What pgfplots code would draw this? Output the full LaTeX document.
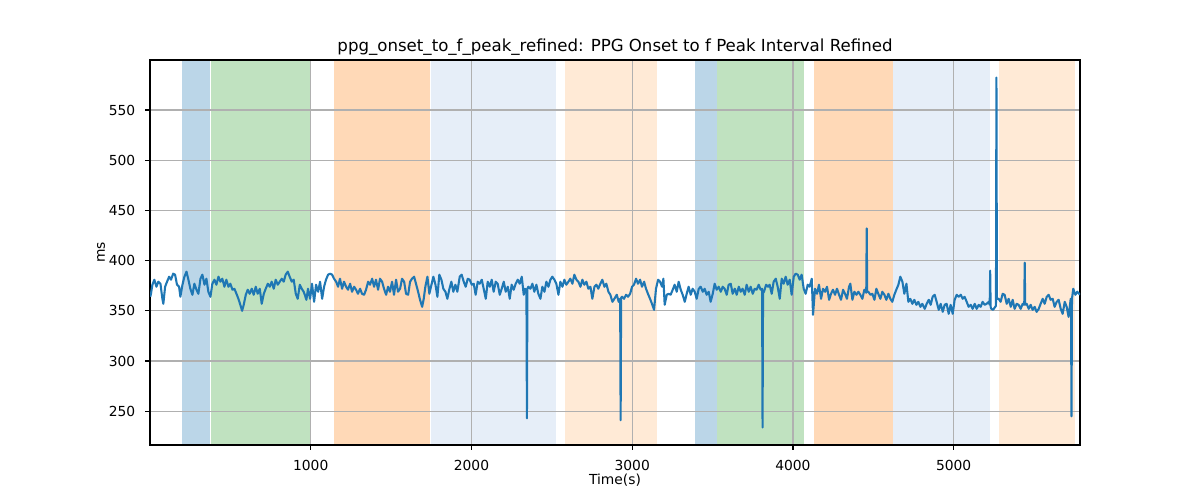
\documentclass[border=0pt]{standalone}
\usepackage{fontspec}
\setmainfont{DejaVu Sans}
\usepackage{pgfplots}
\pgfplotsset{compat=1.18}
\usepackage{pgfplotstable}
\definecolor{tabblue}{HTML}{1F77B4}
\definecolor{gridgray}{HTML}{B0B0B0}
\definecolor{spanblue}{RGB}{187,214,232}
\definecolor{spangreen}{RGB}{192,226,192}
\definecolor{spanorange}{RGB}{255,217,183}
\definecolor{spanltblue}{RGB}{230,238,248}
\definecolor{spanltorange}{RGB}{255,234,214}
\begin{document}
\pgfplotstableread{
x y
1 364
5 366
15 376
27 381
40 374
52 379
65 377
77 362
83 357
94 374
106 379
119 384
131 381
144 387
156 386
168 376
181 374
189 364
202 376
214 384
227 389
239 381
251 372
264 366
276 377
289 371
301 367
314 382
326 386
339 376
351 382
363 369
376 364
388 377
401 381
413 376
426 384
438 379
450 382
463 374
475 381
488 374
500 377
513 371
525 372
538 367
550 362
562 356
573 350
583 356
596 366
608 371
620 367
633 372
645 366
658 374
670 367
683 372
695 357
708 367
720 372
733 377
745 374
757 379
770 372
782 381
795 376
807 379
820 382
832 379
844 386
857 389
869 384
882 379
894 381
907 367
919 362
932 376
944 372
956 369
963 366
973 361
983 372
996 362
1008 377
1021 359
1033 376
1046 369
1058 379
1071 362
1083 374
1095 381
1108 386
1120 387
1133 386
1145 382
1158 379
1170 374
1182 382
1195 372
1207 379
1220 374
1232 371
1245 377
1257 369
1270 374
1282 371
1294 367
1307 372
1319 367
1332 366
1344 371
1357 379
1369 376
1382 382
1394 374
1406 381
1419 371
1431 382
1444 379
1456 372
1469 366
1481 374
1493 369
1506 379
1518 366
1531 381
1543 369
1556 372
1568 382
1581 379
1593 367
1606 366
1618 379
1630 382
1643 384
1655 377
1668 369
1680 361
1693 354
1703 362
1713 374
1726 384
1738 367
1751 376
1763 384
1776 376
1788 364
1800 386
1813 381
1825 372
1838 369
1850 362
1863 372
1875 379
1887 369
1900 376
1912 369
1927 384
1939 386
1952 379
1964 374
1977 382
1989 381
2002 376
2014 377
2026 366
2039 379
2051 377
2064 381
2076 372
2089 362
2101 379
2114 374
2126 381
2138 369
2151 379
2163 377
2176 366
2188 372
2201 379
2213 369
2226 374
2238 362
2250 376
2263 371
2275 377
2288 381
2300 377
2313 384
2325 366
2333 372
2342 370
2345 243
2348 372
2354 374
2367 372
2379 377
2391 369
2404 376
2416 367
2429 362
2441 374
2454 369
2466 379
2479 374
2491 381
2503 384
2516 381
2528 377
2541 366
2553 379
2566 374
2578 381
2590 376
2603 379
2615 382
2628 377
2640 386
2653 381
2665 379
2678 374
2690 381
2702 376
2715 379
2727 372
2740 374
2752 362
2765 374
2777 376
2789 372
2802 377
2814 381
2827 374
2839 377
2852 369
2864 366
2877 359
2889 362
2904 366
2916 359
2925 362
2928 241
2931 363
2937 364
2949 362
2962 366
2974 364
2987 367
2999 374
3011 376
3024 382
3036 377
3049 381
3061 374
3074 379
3086 372
3098 367
3111 362
3123 357
3136 351
3148 372
3161 381
3173 379
3186 374
3194 382
3202 356
3215 366
3227 367
3239 366
3252 371
3264 376
3277 369
3289 379
3302 371
3314 366
3327 359
3339 367
3351 374
3364 366
3376 372
3389 369
3401 362
3414 372
3426 374
3439 369
3451 372
3463 366
3476 369
3488 359
3501 367
3513 377
3526 371
3538 374
3551 369
3563 374
3575 372
3588 366
3600 376
3613 377
3625 367
3638 372
3650 366
3663 374
3675 369
3687 372
3700 366
3712 376
3725 369
3737 374
3750 367
3762 372
3774 371
3787 376
3799 371
3808 372
3811 233.8
3814 368
3820 369
3833 376
3845 374
3855 376
3868 367
3880 379
3893 382
3905 374
3918 362
3930 382
3942 377
3955 384
3967 376
3980 381
3992 366
4005 384
4017 387
4030 386
4042 381
4054 386
4067 372
4079 367
4092 376
4104 374
4117 382
4125 346
4137 372
4150 367
4162 376
4175 362
4187 372
4200 369
4212 374
4225 361
4237 367
4249 371
4262 366
4274 372
4287 366
4299 361
4312 371
4324 367
4336 362
4349 374
4357 377
4370 361
4382 369
4395 366
4407 369
4419 366
4432 362
4444 371
4456 368
4459 432
4462 369
4469 369
4482 366
4494 367
4507 361
4519 372
4531 367
4544 362
4556 369
4569 366
4581 361
4594 367
4606 362
4618 359
4631 366
4643 371
4656 376
4668 384
4681 379
4693 367
4706 377
4718 359
4730 362
4743 357
4755 361
4768 356
4780 359
4793 354
4805 357
4820 352
4832 357
4845 361
4857 356
4869 364
4882 366
4894 359
4907 351
4919 357
4932 349
4944 356
4956 357
4969 347
4981 356
4994 347
5006 361
5019 366
5031 364
5044 366
5056 362
5068 364
5081 359
5093 354
5106 356
5118 352
5131 357
5143 352
5156 356
5168 354
5180 359
5193 356
5205 357
5218 359
5224 356
5227 390
5230 354
5234 352
5245 351
5263 355
5266 582.3
5269 362
5280 362
5292 359
5305 367
5317 366
5330 357
5342 362
5355 354
5367 361
5379 352
5392 357
5404 356
5417 352
5429 357
5439 356
5442 398
5445 356
5454 357
5467 352
5479 356
5491 351
5504 354
5516 349
5529 352
5541 357
5554 362
5566 357
5579 364
5591 366
5603 361
5616 362
5628 354
5641 359
5653 361
5666 352
5678 347
5691 359
5703 354
5715 344
5728 362
5730 360
5733 245
5736 362
5744 372
5757 366
5769 369
5786 366
}\ppgdata
\begin{tikzpicture}
\begin{axis}[
  set layers,
  at={(0,0)}, anchor=south west,
  scale only axis, width=672.14pt, height=278.25pt,
  xmin=0, xmax=5786, ymin=216.4, ymax=599.8,
  xtick={1000,2000,3000,4000,5000},
  ytick={250,300,350,400,450,500,550},
  xtick pos=bottom, ytick pos=left,
  tick align=outside, major tick length=3.5pt,
  tick style={black, line width=0.8pt},
  axis line style={line width=0.8pt},
  grid=major, grid style={color=gridgray, line width=0.8pt},
  /pgf/number format/assume math mode=true,
  /pgf/number format/1000 sep={},
  ticklabel style={font=\fontsize{10}{12}\selectfont},
  xticklabel style={anchor=north, inner sep=0pt},
  yticklabel style={anchor=east, inner sep=0pt},
  xticklabel shift=7pt,
  yticklabel shift=7pt,
  title={ppg\_onset\_to\_f\_peak\_refined: PPG Onset to f Peak Interval Refined},
  title style={at={(axis description cs:0.5,1)}, anchor=base, inner sep=0pt, font=\fontsize{12}{14}\selectfont},
  xlabel={Time(s)},
  xlabel style={at={(axis description cs:0.5,0)}, anchor=base, inner sep=0pt, yshift=-28.9pt, font=\fontsize{10}{12}\selectfont},
  ylabel={ms},
  ylabel style={at={(axis description cs:-0.0484,0.5)}, anchor=base, inner sep=0pt, font=\fontsize{10}{12}\selectfont},
]
\addplot[fill=spanblue, draw=none, on layer=axis background, forget plot] coordinates {(197.5,216.4) (376,216.4) (376,599.8) (197.5,599.8)};
\addplot[fill=spangreen, draw=none, on layer=axis background, forget plot] coordinates {(382,216.4) (993.8,216.4) (993.8,599.8) (382,599.8)};
\addplot[fill=spanorange, draw=none, on layer=axis background, forget plot] coordinates {(1143,216.4) (1744.6,216.4) (1744.6,599.8) (1143,599.8)};
\addplot[fill=spanltblue, draw=none, on layer=axis background, forget plot] coordinates {(1746.5,216.4) (2528.4,216.4) (2528.4,599.8) (1746.5,599.8)};
\addplot[fill=spanltorange, draw=none, on layer=axis background, forget plot] coordinates {(2580,216.4) (3154,216.4) (3154,599.8) (2580,599.8)};
\addplot[fill=spanblue, draw=none, on layer=axis background, forget plot] coordinates {(3388.8,216.4) (3527.5,216.4) (3527.5,599.8) (3388.8,599.8)};
\addplot[fill=spangreen, draw=none, on layer=axis background, forget plot] coordinates {(3527.5,216.4) (4071,216.4) (4071,599.8) (3527.5,599.8)};
\addplot[fill=spanorange, draw=none, on layer=axis background, forget plot] coordinates {(4129,216.4) (4625,216.4) (4625,599.8) (4129,599.8)};
\addplot[fill=spanltblue, draw=none, on layer=axis background, forget plot] coordinates {(4625,216.4) (5228,216.4) (5228,599.8) (4625,599.8)};
\addplot[fill=spanltorange, draw=none, on layer=axis background, forget plot] coordinates {(5280,216.4) (5757,216.4) (5757,599.8) (5280,599.8)};
\addplot[color=tabblue, line width=1.5pt, mark=none, line join=round] table[x=x, y=y] {\ppgdata};
\end{axis}
\path (-108.41pt,-39.75pt) rectangle (758.86pt,321.61pt);
\end{tikzpicture}
\end{document}
